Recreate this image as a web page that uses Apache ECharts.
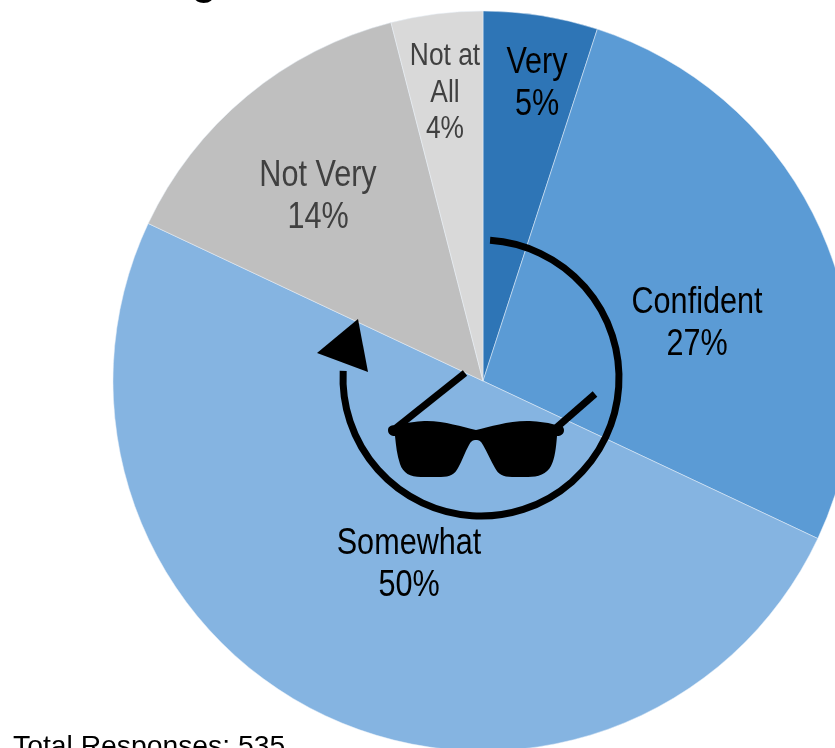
<!DOCTYPE html>
<html>
<head>
<meta charset="utf-8">
<style>html,body{margin:0;padding:0;background:#fff;overflow:hidden}#c{width:835px;height:748px}</style>
<script src="https://cdn.jsdelivr.net/npm/echarts@6/dist/echarts.min.js"></script>
</head>
<body>
<div id="c"></div>
<script>
// Survey answers, clockwise from twelve o'clock
const categories = ['Very', 'Confident', 'Somewhat', 'Not Very', 'Not at\nAll'];
const values = [5, 27, 50, 14, 4];
const sliceColors = ['#2E75B6', '#5B9BD5', '#85B4E1', '#BFBFBF', '#D9D9D9'];
const labelColors = ['#000000', '#000000', '#000000', '#404040', '#404040'];
const footnote = 'Total Responses: 535';

// Label anchor points, in page pixels
const labelSpots = [[537, 84], [697, 324], [409, 565], [318, 197], [445, 93]];

const chart = echarts.init(document.getElementById('c'), null, { renderer: 'canvas' });

// Sunglasses silhouette
const glasses = 'M388 430 C388 426 392 425 396 425 C410 422 420 421 427 421 C445 421 462 427 476 430 ' +
  'C490 427 507 421 527 421 C534 421 546 422 556 425 C560 425 564 426 564 430 C564 434 561 436 557 436 ' +
  'C556 448 555 458 551 466 C547 474 538 477 528 477 L512 477 C503 477 498 474 495 468 C491 461 487 452 483 445 ' +
  'C481 441 479 440 476 440 C473 440 471 441 469 445 C465 452 462 461 458 468 C455 474 450 477 441 477 ' +
  'L421 477 C410 477 403 473 400 464 C397 455 396 446 395 436 C391 436 388 434 388 430 Z';
echarts.graphic.registerShape('glasses', echarts.graphic.extendPath(glasses, {}));

// Condensed slice captions: regular text squeezed horizontally
const captions = categories.map((name, i) => ({
  type: 'text',
  x: labelSpots[i][0],
  y: labelSpots[i][1],
  scaleX: 0.85,
  z: 20,
  style: {
    text: name + '\n' + values[i] + '%',
    font: (i === 4 ? 31 : 36) + 'px "Liberation Sans", sans-serif',
    lineHeight: i === 4 ? 36.5 : 42,
    fill: labelColors[i],
    align: 'center',
    verticalAlign: 'middle'
  }
}));

chart.setOption({
  animation: false,
  series: [{
    type: 'pie',
    center: [483, 381],
    radius: [0, 370],
    startAngle: 90,
    clockwise: true,
    silent: true,
    itemStyle: { borderColor: '#E8F0F8', borderWidth: 0.5 },
    label: { show: false },
    labelLine: { show: false },
    data: categories.map((name, i) => ({
      name,
      value: values[i],
      itemStyle: { color: sliceColors[i] }
    }))
  }],
  graphic: [
    // Clipped heading descender at the top edge
    { type: 'text', x: 192, y: -36, z: 20, style: { text: 'g', font: 'bold 40px "Liberation Sans", sans-serif', fill: '#000' } },
    // Circular arrow around the glasses
    { type: 'arc', z: 20, shape: { cx: 481, cy: 378, r: 138, startAngle: -1.505, endAngle: -3.09, clockwise: true },
      style: { stroke: '#000', lineWidth: 7, fill: null } },
    { type: 'polygon', z: 20, shape: { points: [[358, 319], [317, 353], [368, 372]] }, style: { fill: '#000' } },
    { type: 'line', z: 20, shape: { x1: 396, y1: 428, x2: 465, y2: 373 }, style: { stroke: '#000', lineWidth: 7 } },
    { type: 'line', z: 20, shape: { x1: 556, y1: 428, x2: 595, y2: 394 }, style: { stroke: '#000', lineWidth: 7 } },
    { type: 'glasses', z: 20, style: { fill: '#000' } },
    { type: 'text', x: 13, y: 733, z: 20, style: { text: footnote, font: '28.3px "Liberation Sans", sans-serif', fill: '#000' } }
  ].concat(captions)
});
</script>
</body>
</html>
